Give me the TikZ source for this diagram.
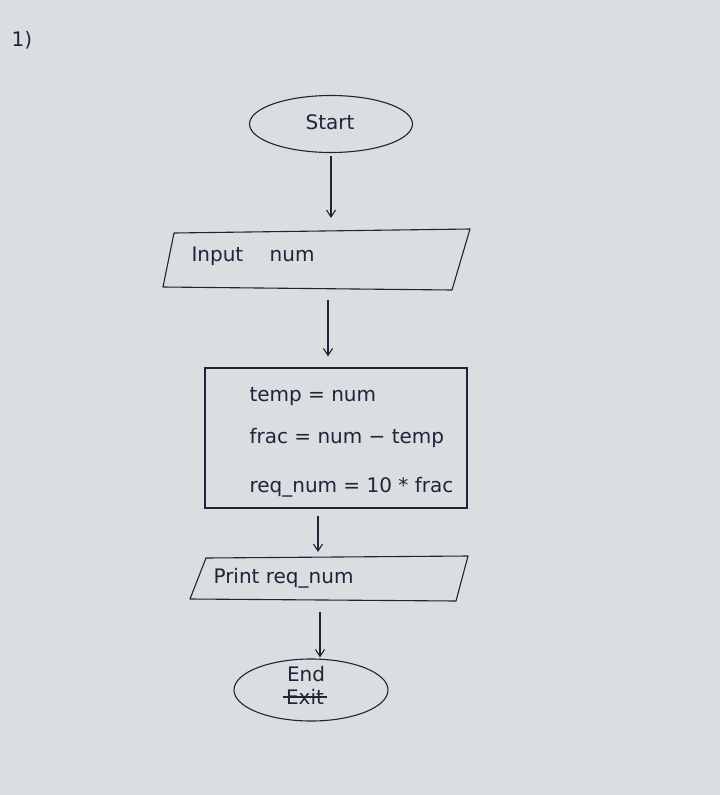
\documentclass[tikz,border=0pt]{standalone}
\usepackage{fontspec}
\setmainfont{DejaVu Sans}
\usetikzlibrary{shapes.geometric,arrows.meta}
\definecolor{paper}{HTML}{D9DEE1}
\definecolor{ink}{HTML}{22223A}
\begin{document}
\begin{tikzpicture}[x=1pt,y=-1pt,
  ink/.style={draw=ink,line width=1.1pt},
  txt/.style={text=ink,font=\fontsize{20}{24}\selectfont},
  term/.style={ink,ellipse,minimum width=163pt,minimum height=57pt},
  proc/.style={ink,rectangle,minimum width=262pt,minimum height=140pt},
  flow/.style={ink,-{Straight Barb[length=7pt,width=9pt]}}]
\fill[paper] (0,0) rectangle (720,795);
\useasboundingbox (0,0) rectangle (720,795);
\node[txt] (lbl) at (22,40) {1)};
% Start
\node[term] (start) at (331,124) {};
\node[txt] (startt) at (330,122) {Start};
% Input parallelogram
\coordinate (inpTL) at (174,233);
\coordinate (inpTR) at (470,229);
\coordinate (inpBR) at (452,290);
\coordinate (inpBL) at (163,287);
\draw[ink,line join=round] (inpTL) -- (inpTR) -- (inpBR) -- (inpBL) -- cycle;
\coordinate (inpN) at (331,231);
\coordinate (inpS) at (328,289);
\node[txt,anchor=west] (inpt) at (188,256) {Input\quad\ num};
% Process box
\node[proc] (calc) at (336,438) {};
\node[txt,anchor=west] (l1) at (246,397) {temp = num};
\node[txt,anchor=west] (l2) at (246,438) {frac = num − temp};
\node[txt,anchor=west] (l3) at (246,487) {req\_num = 10 * frac};
% Print parallelogram
\coordinate (prtTL) at (206,558);
\coordinate (prtTR) at (468,556);
\coordinate (prtBR) at (456,601);
\coordinate (prtBL) at (190,599);
\draw[ink,line join=round] (prtTL) -- (prtTR) -- (prtBR) -- (prtBL) -- cycle;
\coordinate (prtN) at (318,557);
\coordinate (prtS) at (320,600);
\node[txt,anchor=west] (prtt) at (210,578) {Print req\_num};
% End
\node[term,minimum width=154pt,minimum height=62pt] (end) at (311,690) {};
\node[txt] (endt) at (306,674) {End};
\node[txt] (exitt) at (305,697) {Exit};
\draw[ink] (exitt.west) -- (exitt.east);
% connectors
\draw[flow,shorten <=3pt,shorten >=13pt] (start) -- (inpN);
\draw[flow,shorten <=11pt,shorten >=11pt] (inpS) -- (inpS|-calc.north);
\draw[flow,shorten <=7pt,shorten >=5pt] (prtN|-calc.south) -- (prtN);
\draw[flow,shorten <=12pt,shorten >=1pt] (prtS) -- (prtS|-end.north);
\end{tikzpicture}
\end{document}
